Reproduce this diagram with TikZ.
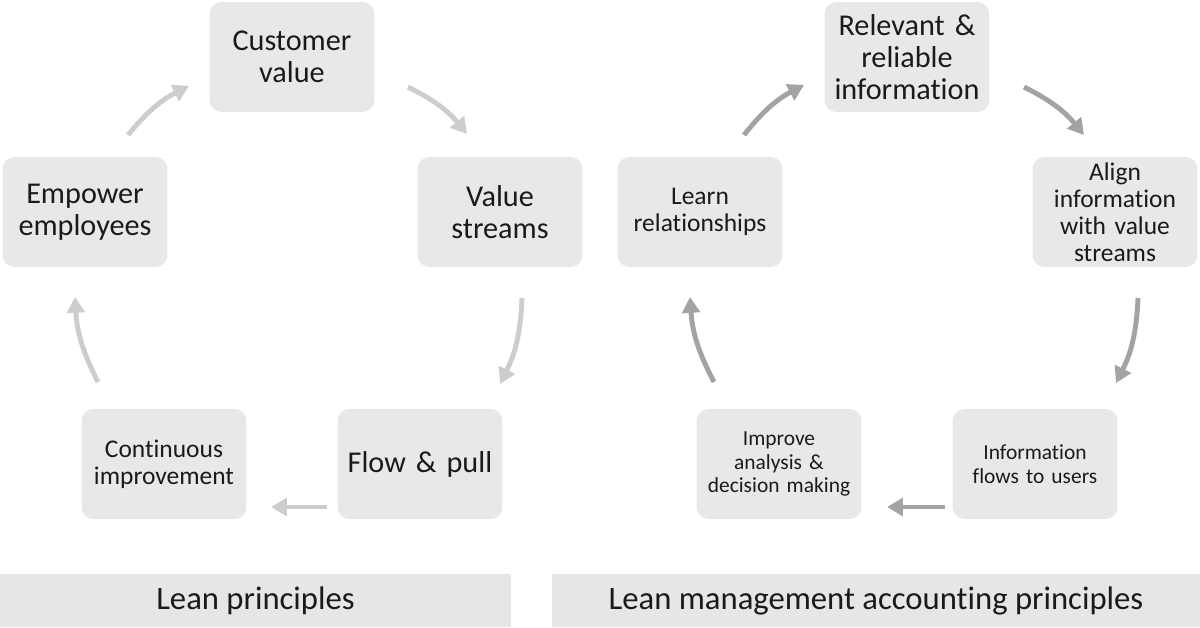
\documentclass[tikz,border=0pt]{standalone}
\usepackage{fontspec}
\setmainfont{Carlito}[Ligatures=NoCommon]
\usetikzlibrary{arrows.meta}
\definecolor{boxfill}{HTML}{E8E8EA}
\definecolor{barfill}{HTML}{E6E6E7}
\definecolor{arrL}{HTML}{CDCDCD}
\definecolor{arrR}{HTML}{A3A3A3}
\definecolor{txt}{HTML}{1A1A1A}
\tikzset{
  box/.style={fill=boxfill, rounded corners=6.8pt, minimum width=3.3cm, minimum height=2.2cm, inner sep=0pt, align=center, text=txt, text width=3.2cm},
  bigtxt/.style={font=\fontsize{17.2}{18.1}\selectfont},
  midtxt/.style={font=\fontsize{14.5}{15.3}\selectfont},
  smalltxt/.style={font=\fontsize{12.2}{13.6}\selectfont},
  bar/.style={fill=barfill, inner sep=0pt, text=txt, font=\fontsize{18.6}{20}\selectfont},
  arrowL/.style={draw=arrL, line width=2.8pt, -{Triangle[length=9pt,width=10pt]}},
  arrowR/.style={draw=arrR, line width=2.8pt, -{Triangle[length=9pt,width=10pt]}},
}
\begin{document}
\begin{tikzpicture}[x=0.02cm,y=-0.02cm]
\useasboundingbox (0,0) rectangle (1200,628);
% left cycle
\node[box,bigtxt] (cv) at (292,57) {Customer\\value};
\node[box,bigtxt] (vs) at (500,212) {Value\\streams};
\node[box,bigtxt] (fp) at (420,464) {Flow \& pull};
\node[box,midtxt] (ci) at (164,464) {Continuous\\improvement};
\node[box,bigtxt] (ee) at (85,212) {Empower\\employees};
% right cycle
\node[box,bigtxt] (rr) at (907,57) {Relevant \&\\reliable\\information};
\node[box,midtxt] (ai) at (1115,212) {Align\\information\\with value\\streams};
\node[box,smalltxt] (if) at (1035,464) {Information\\flows to users};
\node[box,smalltxt] (ia) at (779,464) {Improve\\analysis \&\\decision making};
\node[box,midtxt] (lr) at (700,212) {Learn\\relationships};
% bars
\node[bar, minimum width=10.22cm, minimum height=1.08cm] (lp) at (255.5,600.5) {Lean principles};
\node[bar, minimum width=12.96cm, minimum height=1.08cm] (lm) at (876,600.5) {Lean management accounting principles};
% arrow end points
\coordinate (l1a) at (128,135); \coordinate (l1b) at (189,86);
\coordinate (l2a) at (408,87); \coordinate (l2b) at (467,134);
\coordinate (l3a) at (522,298); \coordinate (l3b) at (500,384);
\coordinate (l4a) at (327,507); \coordinate (l4b) at (271,507);
\coordinate (l5a) at (98,382); \coordinate (l5b) at (75,297);
\coordinate (r1a) at (744,135); \coordinate (r1b) at (804,85);
\coordinate (r2a) at (1024,87); \coordinate (r2b) at (1084,135);
\coordinate (r3a) at (1138,298); \coordinate (r3b) at (1116,383);
\coordinate (r4a) at (945,507); \coordinate (r4b) at (887,507);
\coordinate (r5a) at (714,382); \coordinate (r5b) at (690,297);
% arrows left
\draw[arrowL] (l1a) to[bend left=12] (l1b);
\draw[arrowL] (l2a) to[bend left=12] (l2b);
\draw[arrowL] (l3a) to[bend left=12] (l3b);
\draw[arrowL] (l4a) -- (l4b);
\draw[arrowL] (l5a) to[bend left=12] (l5b);
% arrows right
\draw[arrowR] (r1a) to[bend left=12] (r1b);
\draw[arrowR] (r2a) to[bend left=12] (r2b);
\draw[arrowR] (r3a) to[bend left=12] (r3b);
\draw[arrowR] (r4a) -- (r4b);
\draw[arrowR] (r5a) to[bend left=12] (r5b);
\end{tikzpicture}
\end{document}
